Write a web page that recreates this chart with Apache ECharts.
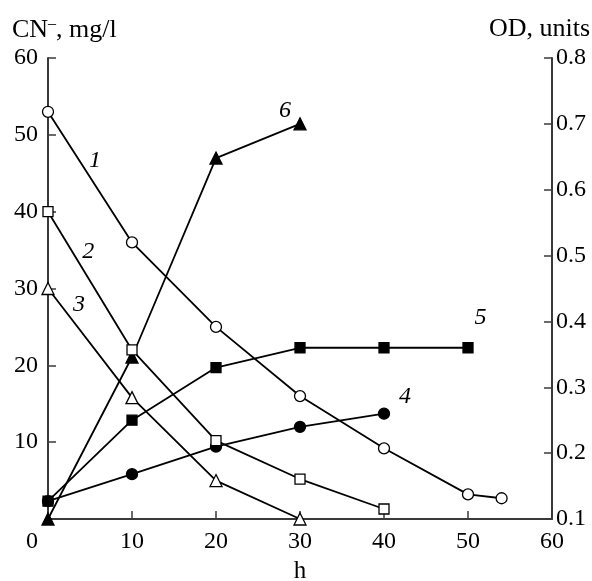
<!DOCTYPE html>
<html>
<head>
<meta charset="utf-8">
<script src="https://cdn.jsdelivr.net/npm/echarts@6/dist/echarts.min.js"></script>
<style>
  body { margin: 0; background: #fff; }
  #chart { width: 592px; height: 581px; }
</style>
</head>
<body>
<div id="chart"></div>
<script>
// CN- (left axis, mg/l), open markers
var hours1 = [0, 10, 20, 30, 40, 50, 54]
var cn1 = [53, 36, 25, 16, 9.2, 3.2, 2.7]
var hours2 = [0, 10, 20, 30, 40]
var cn2 = [40, 22, 10.2, 5.2, 1.3]
var hours3 = [0, 10, 20, 30]
var cn3 = [30, 15.8, 5, 0]
// OD (right axis, units), filled markers
var hours4 = [0, 10, 20, 30, 40]
var od4 = [0.127, 0.168, 0.21, 0.24, 0.26]
var hours5 = [0, 10, 20, 30, 40, 50]
var od5 = [0.127, 0.25, 0.33, 0.36, 0.36, 0.36]
var hours6 = [0, 10, 20, 30]
var od6 = [0.1, 0.346, 0.648, 0.7]
// curve numbers: [text, hour, value, yAxis]
var curveTags = [
  ['1', 5.6, 46.7, 0],
  ['2', 4.8, 34.8, 0],
  ['3', 3.7, 27.9, 0],
  ['4', 42.5, 0.285, 1],
  ['5', 51.5, 0.405, 1],
  ['6', 28.2, 0.72, 1]
]

var font = "'Liberation Serif', 'Times New Roman', serif"
var black = '#000'

function pairs(xs, ys) {
  return xs.map(function (x, i) { return [x, ys[i]] })
}

function makeSeries(xs, ys, axis, symbol, filled, size) {
  return {
    type: 'line',
    yAxisIndex: axis,
    data: pairs(xs, ys),
    symbol: symbol,
    symbolSize: size,
    showAllSymbol: true,
    lineStyle: { color: black, width: 1.8 },
    itemStyle: {
      color: filled ? black : '#fff',
      borderColor: black,
      borderWidth: 1.3
    },
    z: filled ? 3 : 4,
    animation: false
  }
}

var myChart = echarts.init(document.getElementById('chart'))

var axisLine = { show: true, lineStyle: { color: '#3a3a3a', width: 2 } }
var axisTick = { show: true, inside: true, length: 8, lineStyle: { color: '#3a3a3a', width: 1.5 } }

var option = {
  animation: false,
  grid: { left: 48, right: 40, top: 58, bottom: 62, outerBoundsMode: 'none', containLabel: false },
  xAxis: {
    type: 'value',
    min: 0,
    max: 60,
    interval: 10,
    name: 'h',
    nameLocation: 'middle',
    nameGap: 35,
    nameTextStyle: { fontFamily: font, fontSize: 25, color: black },
    axisLine: axisLine,
    axisTick: axisTick,
    splitLine: { show: false },
    axisLabel: {
      fontFamily: font, fontSize: 24, color: black, margin: 11,
      formatter: function (v) { return v === 0 ? '{z|0}' : String(v) },
      rich: { z: { fontFamily: font, fontSize: 24, color: black, padding: [0, 32, 0, 0] } }
    }
  },
  yAxis: [
    {
      type: 'value',
      min: 0,
      max: 60,
      interval: 10,
      position: 'left',
      axisLine: axisLine,
      axisTick: axisTick,
      splitLine: { show: false },
      axisLabel: {
        fontFamily: font, fontSize: 24, color: black, margin: 10,
        formatter: function (v) { return v === 0 ? '' : String(v) }
      }
    },
    {
      type: 'value',
      min: 0.1,
      max: 0.8,
      interval: 0.1,
      position: 'right',
      axisLine: axisLine,
      axisTick: axisTick,
      splitLine: { show: false },
      axisLabel: {
        fontFamily: font, fontSize: 24, color: black, margin: 4,
        formatter: function (v) { return v.toFixed(1) }
      }
    }
  ],
  series: [
    makeSeries(hours1, cn1, 0, 'circle', false, 11),
    makeSeries(hours2, cn2, 0, 'rect', false, 10),
    makeSeries(hours3, cn3, 0, 'triangle', false, 12),
    makeSeries(hours4, od4, 1, 'circle', true, 11),
    makeSeries(hours5, od5, 1, 'rect', true, 10),
    makeSeries(hours6, od6, 1, 'triangle', true, 12)
  ]
}

myChart.setOption(option)

// axis titles and curve numbers
var graphics = [
  {
    type: 'text', left: 12, top: 16,
    style: {
      text: '{a|CN}{s|–}{a|, mg/l}',
      rich: {
        a: { fontFamily: font, fontSize: 26, fill: black },
        s: { fontFamily: font, fontSize: 16, fill: black, padding: [0, 0, 12, 0] }
      }
    }
  },
  {
    type: 'text', right: 2, top: 16,
    style: { text: 'OD, units', fontFamily: font, fontSize: 26, fill: black }
  }
]
curveTags.forEach(function (t) {
  var p = myChart.convertToPixel({ xAxisIndex: 0, yAxisIndex: t[3] }, [t[1], t[2]])
  graphics.push({
    type: 'text', x: p[0], y: p[1],
    style: {
      text: t[0], fontFamily: font, fontSize: 24, fontStyle: 'italic',
      fill: black, align: 'center', verticalAlign: 'middle'
    }
  })
})
myChart.setOption({ graphic: graphics })
</script>
</body>
</html>
